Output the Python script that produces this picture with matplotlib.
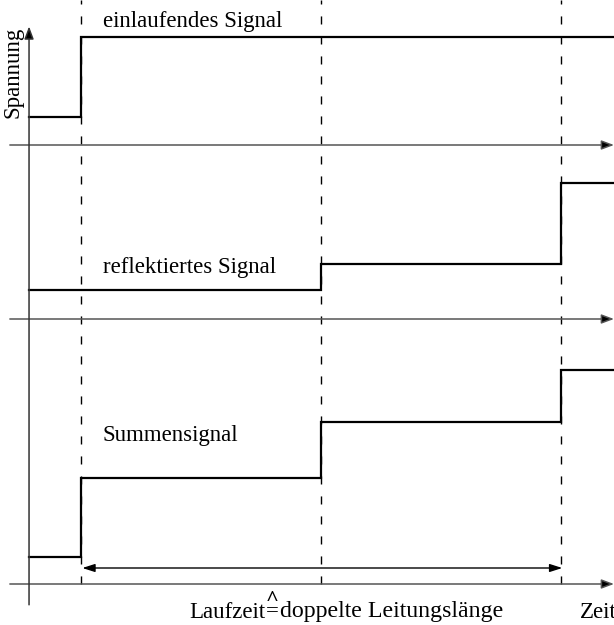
import matplotlib
matplotlib.use('Agg')
import matplotlib.pyplot as plt

plt.rcParams['font.family'] = ['Liberation Serif', 'DejaVu Serif']

# time axis in units of the line delay, step instants
t_steps = [0.217, 1.217, 2.217]
t_end = 2.44

# signal levels (above each panel's baseline), one value per interval
einlaufend = [0.35, 1.35]
reflektiert = [0.36, 0.69, 1.70]
summe = [0.34, 1.33, 2.02, 2.68]

labels = ['einlaufendes Signal', 'reflektiertes Signal', 'Summensignal']
y_label = 'Spannung'
x_label = 'Zeit'
span_label = ['Laufzeit', 'doppelte Leitungslänge']

fig = plt.figure(figsize=(6.14, 6.25), dpi=100)
ax = fig.add_axes([0, 0, 1, 1])
ax.set_xlim(-0.121, 2.4375)
ax.set_ylim(-0.5125, 7.3)
ax.axis('off')

baselines = [5.4875, 3.3125, 0.0]
signals = [einlaufend, reflektiert, summe]
# which step instants each signal jumps at
step_map = {0: [t_steps[0]], 1: [t_steps[1], t_steps[2]], 2: t_steps}

for k, (base, levels) in enumerate(zip(baselines, signals)):
    xs = [0.0]
    ys = [base + levels[0]]
    for t, lev in zip(step_map[k], levels[1:]):
        xs += [t, t]
        ys += [ys[-1], base + lev]
    xs.append(t_end)
    ys.append(ys[-1])
    ax.plot(xs, ys, color='black', lw=1.6, solid_joinstyle='miter')
    # horizontal time axis
    ax.annotate('', xy=(2.4375, base), xytext=(-0.08, base),
                arrowprops=dict(arrowstyle='-|>,head_length=0.75,head_width=0.28',
                                ec='#555555', fc='black', lw=1.1, shrinkA=0, shrinkB=0))

# vertical voltage axis
ax.annotate('', xy=(0.0, 6.97), xytext=(0.0, -0.26),
            arrowprops=dict(arrowstyle='-|>,head_length=0.75,head_width=0.28',
                            ec='#333333', fc='black', lw=1.1, shrinkA=0, shrinkB=0))

# dashed time markers
for t in t_steps:
    ax.plot([t, t], [0.0, 7.3], color='black', lw=1.0, linestyle=(0, (5.8, 8.6)))

# double arrow for the delay
ax.annotate('', xy=(t_steps[0] + 0.005, 0.2), xytext=(t_steps[2] + 0.005, 0.2),
            arrowprops=dict(arrowstyle='<|-|>,head_length=0.75,head_width=0.24',
                            color='black', lw=1.0, shrinkA=0, shrinkB=0))

ax.text(0.308, 7.025, labels[0], fontsize=16.5, va='center', ha='left')
ax.text(0.308, 3.95, labels[1], fontsize=16.5, va='center', ha='left')
ax.text(0.308, 1.85, labels[2], fontsize=16.5, va='center', ha='left')
ax.text(-0.067, 6.4, y_label, fontsize=16.5, rotation=90, va='center', ha='center')

# "Laufzeit ≙ doppelte Leitungslänge" with the hat set above the equals sign
ax.text(0.983, -0.35, span_label[0], fontsize=16.5, va='center', ha='right')
ax.text(1.0125, -0.35, '=', fontsize=16.5, va='center', ha='center')
ax.text(1.0125, -0.265, '^', fontsize=16, fontweight='bold', va='baseline', ha='center')
ax.text(1.046, -0.35, span_label[1], fontsize=17.2, va='center', ha='left')
ax.text(2.296, -0.35, x_label, fontsize=16.5, va='center', ha='left')

fig.savefig('out.png', dpi=100)
